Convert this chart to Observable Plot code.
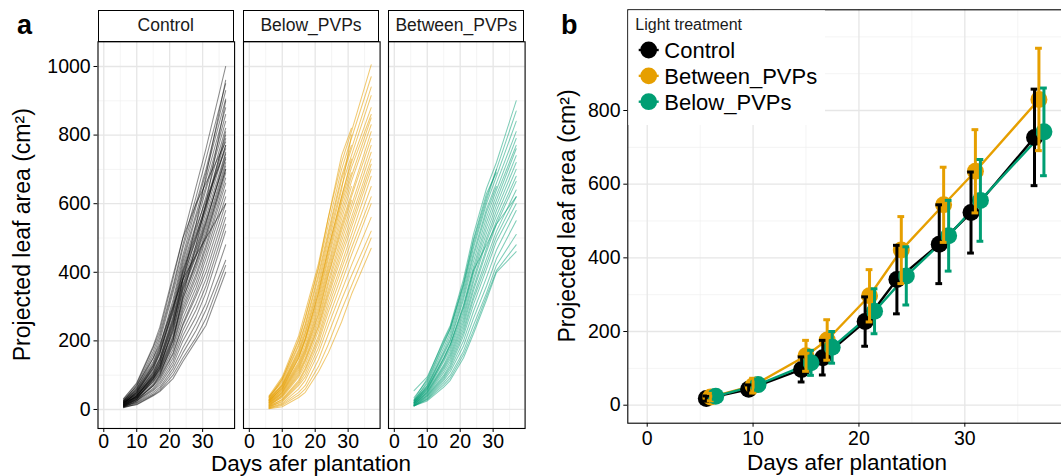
<!DOCTYPE html>
<html><head><meta charset="utf-8">
<script src="https://cdn.jsdelivr.net/npm/d3@7"></script>
<script src="https://cdn.jsdelivr.net/npm/@observablehq/plot@0.6"></script>
<style>
html,body{margin:0;padding:0;background:#fff;overflow:hidden;width:1061px;height:476px;}
#root{position:relative;width:1061px;height:476px;font-family:"Liberation Sans",Arial,Helvetica,sans-serif;color:#000;overflow:hidden;}
.strip{position:absolute;box-sizing:border-box;border:1.1px solid #000;background:#fff;display:flex;align-items:center;justify-content:center;font-size:17.5px;color:#1a1a1a;}
svg.overlay{position:absolute;left:0;top:0;pointer-events:none;font-family:"Liberation Sans",Arial,Helvetica,sans-serif;}
</style></head>
<body><div id="root"></div>
<script>
// ---------- data ----------
const days = [6, 10, 15, 17, 21, 24, 28, 31, 37];
const xTicks = [0, 10, 20, 30];
const xMinor = [5, 15, 25, 35];
const yTicksA = [0, 200, 400, 600, 800, 1000];
const yMinorA = [100, 300, 500, 700, 900];
const yTicksB = [0, 200, 400, 600, 800];
const yMinorB = [100, 300, 500, 700, 900, 1000];

// panel a: individual plants (values at each day; null = not measured)
const controlPlants = [
  [30, 75, 180, 230, 380, 500, 650, 760, 1000],
  [25, 70, 170, 220, 360, 480, 620, 730, 950],
  [28, 65, 160, 210, 350, 470, 600, 700, 930],
  [22, 60, 150, 200, 340, 450, 590, 690, 905],
  [20, 62, 140, 185, 320, 440, 570, 670, 880],
  [26, 58, 135, 180, 310, 430, 560, 650, 860],
  [18, 55, 130, 175, 300, 420, 540, 640, 840],
  [24, 50, 125, 165, 290, 400, 520, 620, 820],
  [15, 52, 120, 160, 280, 395, 505, 600, 800],
  [20, 48, 115, 150, 270, 385, 495, 590, 790],
  [17, 45, 110, 145, 260, 375, 480, 575, 770],
  [22, 44, 105, 140, 255, 365, 470, 560, 750],
  [14, 40, 100, 135, 245, 355, 455, 545, 735],
  [19, 42, 98, 130, 235, 345, 445, 530, 720],
  [12, 38, 95, 128, 225, 335, 430, 520, 710],
  [16, 40, 92, 122, 215, 325, 420, 505, 700],
  [21, 36, 90, 118, 210, 310, 410, 495, 690],
  [13, 34, 85, 112, 200, 300, 395, 480, 675],
  [10, 32, 82, 108, 190, 290, 385, 470, 660],
  [15, 35, 80, 105, 185, 280, 370, 455, 640],
  [11, 30, 75, 100, 175, 265, 355, 440, 620],
  [9, 28, 70, 95, 165, 250, 340, 420, 600],
  [14, 30, 68, 90, 160, 245, 330, 400, 580],
  [8, 25, 62, 85, 150, 230, 310, 380, 560],
  [12, 26, 58, 78, 140, 215, 290, 360, 540],
  [7, 22, 55, 72, 130, 200, 270, 340, 520],
  [10, 20, 50, 65, 120, 180, 250, 310, 480],
  [6, 18, 45, 60, 110, 165, 230, 290, 435],
  [5, 15, 42, 55, 100, 150, 210, 265, 420],
  [8, 14, 40, 52, 90, 140, 200, 245, 400],
  [32, 78, 185, 240, 390, 500, 600, 660, 780],
  [10, 30, 90, 120, 240, 380, 540, 680, 960],
  [25, 70, 150, 190, 300, 380, 450, 500, 600],
  [8, 25, 70, 100, 200, 330, 480, 600, 900],
  [18, 50, 120, 165, 295, 410, 530, 610, 760],
  [20, 46, 108, 148, 265, 380, 500, 585, 810],
  [16, 38, 96, 126, 230, 350, 450, 540, 745],
  [12, 34, 88, 115, 205, 320, 430, 510, 700],
  [23, 55, 128, 170, 285, 405, 510, 595, 770],
  [14, 40, 102, 138, 250, 360, 465, 550, 730]
];
const belowPlants = [
  [40, 95, 215, 285, 425, 560, 720, 810, 1005],
  [35, 90, 200, 265, 410, 540, 700, 790, 970],
  [30, 85, 190, 250, 395, 520, 680, 770, null],
  [38, 80, 185, 245, 385, 510, 670, 760, 940],
  [28, 75, 175, 235, 370, 500, 650, 740, 915],
  [33, 72, 170, 225, 360, 485, 640, 800, null],
  [25, 70, 165, 220, 350, 470, 620, 720, 880],
  [30, 68, 160, 210, 340, 460, 610, 705, 860],
  [22, 65, 155, 205, 330, 450, 600, 690, null],
  [27, 60, 150, 200, 320, 440, 585, 680, 850],
  [20, 58, 140, 190, 310, 425, 570, 665, 830],
  [24, 55, 135, 180, 300, 415, 555, 650, null],
  [18, 52, 130, 175, 290, 405, 540, 630, 810],
  [21, 50, 125, 170, 280, 395, 530, 620, 790],
  [15, 48, 120, 165, 275, 390, 520, 610, null],
  [19, 45, 115, 160, 265, 375, 505, 595, 770],
  [12, 42, 110, 150, 255, 365, 490, 580, 750],
  [16, 40, 105, 145, 245, 350, 475, 560, 730],
  [10, 38, 100, 140, 240, 340, 460, 545, 715],
  [14, 35, 95, 130, 230, 330, 445, 530, 700],
  [8, 30, 85, 120, 215, 315, 425, 510, 680],
  [11, 28, 80, 115, 205, 300, 410, 490, 650],
  [6, 25, 75, 105, 195, 285, 390, 470, 620],
  [9, 22, 70, 95, 180, 265, 370, 450, 600],
  [5, 18, 60, 85, 165, 245, 345, 420, 560],
  [4, 15, 50, 70, 145, 220, 320, 390, 520],
  [3, 12, 42, 60, 125, 190, 290, 360, 500],
  [2, 8, 35, 50, 110, 165, 255, 335, 470],
  [36, 88, 205, 270, 415, 560, 740, 820, null],
  [26, 62, 150, 205, 340, 470, 620, 730, null]
];
const betweenPlants = [
  [30, 90, 205, 245, 380, 510, 645, 720, 900],
  [25, 80, 190, 235, 365, 490, 620, 700, 870],
  [55, 95, 200, 240, 370, 495, 630, 690, null],
  [28, 75, 180, 225, 350, 470, 600, 680, 840],
  [22, 70, 170, 215, 340, 455, 585, 660, 810],
  [26, 68, 165, 205, 330, 445, 575, 650, null],
  [20, 65, 160, 200, 320, 430, 560, 640, 790],
  [24, 62, 150, 190, 305, 415, 545, 625, 770],
  [18, 58, 145, 185, 295, 405, 530, 610, 760],
  [21, 55, 140, 178, 285, 395, 515, 595, 740],
  [15, 52, 130, 170, 275, 380, 500, 580, 720],
  [19, 50, 125, 162, 265, 370, 490, 565, 700],
  [14, 48, 120, 155, 255, 355, 470, 550, 680],
  [17, 45, 115, 148, 245, 345, 460, 540, 665],
  [12, 42, 108, 140, 235, 330, 440, 520, 640],
  [16, 40, 100, 132, 225, 320, 425, 505, 620],
  [11, 38, 95, 125, 215, 305, 410, 490, 600],
  [13, 35, 90, 118, 200, 285, 385, 465, 580],
  [10, 32, 85, 110, 185, 265, 360, 440, 550],
  [12, 30, 78, 100, 170, 245, 340, 420, 510],
  [10, 28, 72, 92, 160, 230, 330, 405, 480],
  [11, 25, 65, 85, 150, 220, 320, 400, 460],
  [35, 85, 195, 235, 360, 480, 610, 700, null],
  [20, 60, 150, 190, 300, 405, 480, 540, 620]
];
const facetNames = ["Control", "Below_PVPs", "Between_PVPs"];
const facetColors = ["#000000", "#E69F00", "#009E73"];
const facetOpacity = [0.45, 0.55, 0.5];

// panel b: treatment means and standard deviations
const treatments = ["Control", "Between_PVPs", "Below_PVPs"];
const treatmentColors = ["#000000", "#E69F00", "#009E73"];
const meanControl = [18, 43, 97, 129, 227, 341, 437, 523, 727];
const sdControl   = [7, 12, 34, 47, 67, 93, 107, 110, 131];
const meanBetween = [22, 53, 134, 177, 297, 421, 544, 635, 830];
const sdBetween   = [10, 20, 42, 55, 71, 91, 102, 113, 139];
const meanBelow   = [24, 56, 115, 157, 255, 351, 460, 556, 742];
const sdBelow     = [8, 15, 34, 43, 61, 79, 96, 111, 119];

// ---------- layout / style ----------
const FONT = '"Liberation Sans", Arial, Helvetica, sans-serif';
const gridMajor = "#e6e6e6", gridMinor = "#efefef";
const root = document.getElementById("root");
const fmt = d => `${d}`;

// ---------- panel a ----------
const facetW = 136.6, facetGap = 8.6, facetL0 = 97.5;
const plantSets = [controlPlants, belowPlants, betweenPlants];
facetNames.forEach((name, i) => {
  const L = facetL0 + i * (facetW + facetGap);
  const mL = i === 0 ? facetL0 : 12, mR = 12;
  const rows = plantSets[i].flatMap((vals, p) =>
    vals.map((v, k) => ({plant: p, day: days[k], value: v})).filter(d => d.value != null));
  const svg = Plot.plot({
    width: facetW + mL + mR, height: 476,
    marginLeft: mL, marginRight: mR, marginTop: 41.3, marginBottom: 48,
    style: {background: "transparent", fontFamily: FONT, fontSize: "19.5px", color: "#000", overflow: "visible"},
    x: {domain: [-1.76, 39.7], ticks: xTicks, tickSize: 4, tickPadding: 2, label: null, tickFormat: fmt},
    y: {domain: [-55.4, 1072], ticks: yTicksA, tickSize: 4, tickPadding: 3.3, label: null, tickFormat: fmt, axis: i === 0 ? "left" : null},
    marks: [
      Plot.ruleX(xMinor, {stroke: gridMinor, strokeWidth: 0.7}),
      Plot.ruleY(yMinorA, {stroke: gridMinor, strokeWidth: 0.7}),
      Plot.ruleX(xTicks, {stroke: gridMajor, strokeWidth: 1.3}),
      Plot.ruleY(yTicksA, {stroke: gridMajor, strokeWidth: 1.3}),
      Plot.line(rows, {x: "day", y: "value", z: "plant", stroke: facetColors[i], strokeOpacity: facetOpacity[i], strokeWidth: 1.05}),
      Plot.frame({stroke: "#000", strokeWidth: 1.1})
    ]
  });
  svg.style.position = "absolute";
  svg.style.left = (L - mL) + "px";
  svg.style.top = "0px";
  root.appendChild(svg);
  const strip = document.createElement("div");
  strip.className = "strip";
  strip.style.left = L + "px"; strip.style.top = "9.6px";
  strip.style.width = facetW + "px"; strip.style.height = "32.3px";
  strip.textContent = name;
  root.appendChild(strip);
});

// ---------- panel b ----------
const means = [meanControl, meanBetween, meanBelow];
const sds = [sdControl, sdBetween, sdBelow];
const dodgePx = [-4.4, 0, 5];
const series = treatments.map((t, s) => days.map((d, k) => ({treatment: t, day: d, mean: means[s][k], sd: sds[s][k]})));
const lineMarks = series.map((rows, s) => Plot.line(rows, {x: "day", y: "mean", stroke: treatmentColors[s], strokeWidth: 2.4, dx: dodgePx[s]}));
const dotMarks = series.map((rows, s) => Plot.dot(rows, {x: "day", y: "mean", r: 8.5, fill: treatmentColors[s], stroke: "none", dx: dodgePx[s]}));
const barMarks = series.flatMap((rows, s) => [
  Plot.ruleX(rows, {x: "day", y1: d => d.mean - d.sd, y2: d => d.mean + d.sd, stroke: treatmentColors[s], strokeWidth: 3, dx: dodgePx[s]}),
  Plot.ruleY(rows, {y: d => d.mean + d.sd, x1: d => d.day - 0.32, x2: d => d.day + 0.32, stroke: treatmentColors[s], strokeWidth: 3, dx: dodgePx[s]}),
  Plot.ruleY(rows, {y: d => d.mean - d.sd, x1: d => d.day - 0.32, x2: d => d.day + 0.32, stroke: treatmentColors[s], strokeWidth: 3, dx: dodgePx[s]})
]);
const svgB = Plot.plot({
  width: 525, height: 476,
  marginLeft: 87.3, marginRight: 0, marginTop: 9.3, marginBottom: 53.3,
  style: {background: "transparent", fontFamily: FONT, fontSize: "19.5px", color: "#000", overflow: "visible"},
  x: {domain: [-1.833, 39.51], ticks: xTicks, tickSize: 4, tickPadding: 4, label: null, tickFormat: fmt},
  y: {domain: [-48.9, 1073.4], ticks: yTicksB, tickSize: 4, tickPadding: 3.3, label: null, tickFormat: fmt},
  marks: [
    Plot.ruleX(xMinor, {stroke: gridMinor, strokeWidth: 0.7}),
    Plot.ruleY(yMinorB, {stroke: gridMinor, strokeWidth: 0.7}),
    Plot.ruleX(xTicks, {stroke: gridMajor, strokeWidth: 1.3}),
    Plot.ruleY(yTicksB, {stroke: gridMajor, strokeWidth: 1.3}),
    ...lineMarks, ...dotMarks, ...barMarks,
    Plot.frame({stroke: "#000", strokeWidth: 1.1})
  ]
});
svgB.style.position = "absolute";
svgB.style.left = "540px";
svgB.style.top = "0px";
root.appendChild(svgB);

// ---------- overlay: titles, panel letters, legend ----------
const ov = d3.select(root).append("svg").attr("class", "overlay").attr("width", 1061).attr("height", 476);
ov.append("text").attr("x", 17).attr("y", 34).attr("font-size", 27).attr("font-weight", "bold").text("a");
ov.append("text").attr("x", 561).attr("y", 33.5).attr("font-size", 27).attr("font-weight", "bold").text("b");
ov.append("text").attr("transform", "translate(30.2,234.7) rotate(-90)").attr("text-anchor", "middle").attr("font-size", 23).text("Projected leaf area (cm²)");
ov.append("text").attr("transform", "translate(574.8,216) rotate(-90)").attr("text-anchor", "middle").attr("font-size", 23).text("Projected leaf area (cm²)");
ov.append("text").attr("x", 311).attr("y", 471).attr("text-anchor", "middle").attr("font-size", 22.5).text("Days afer plantation");
ov.append("text").attr("x", 847).attr("y", 469.5).attr("text-anchor", "middle").attr("font-size", 22.5).text("Days afer plantation");
// legend
const lg = ov.append("g");
lg.append("rect").attr("x", 628.3).attr("y", 10.3).attr("width", 196.7).attr("height", 114.7).attr("fill", "#fff");
lg.append("text").attr("x", 635.3).attr("y", 29.8).attr("font-size", 16).attr("fill", "#1a1a1a").text("Light treatment");
treatments.forEach((t, s) => {
  const cy = 50 + s * 25.85;
  lg.append("line").attr("x1", 638.7).attr("x2", 658.7).attr("y1", cy).attr("y2", cy).attr("stroke", treatmentColors[s]).attr("stroke-width", 2.4);
  lg.append("circle").attr("cx", 648.7).attr("cy", cy).attr("r", 8.4).attr("fill", treatmentColors[s]);
  lg.append("text").attr("x", 664.3).attr("y", cy + 7.9).attr("font-size", 22).attr("fill", "#000").text(t);
});
</script>
</body></html>
